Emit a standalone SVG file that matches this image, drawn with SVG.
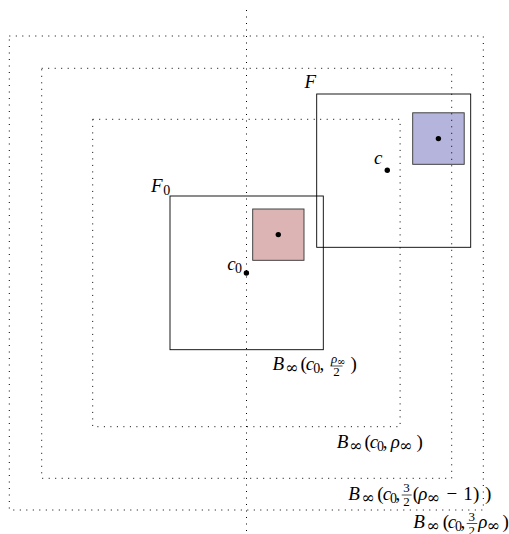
<svg xmlns="http://www.w3.org/2000/svg" width="509" height="534" viewBox="0 0 509 534">
<style>
.dot{fill:none;stroke:#000;stroke-width:1;stroke-dasharray:1 5.5}
.solid{fill:none;stroke:#000;stroke-width:0.9}
.sq{stroke:#333;stroke-width:0.9}
.pt{fill:#000}
text{font-family:"Liberation Serif","Times New Roman",serif;font-size:19px;fill:#000}
.i{font-style:italic}
.s{font-size:14px}
.inf{font-family:"DejaVu Serif","DejaVu Sans",serif;font-size:16px}
.ss{font-size:13px}
.sss{font-family:"DejaVu Serif","DejaVu Sans",serif;font-size:10px}
</style>
<rect width="509" height="534" fill="#fff"/>
<g id="square-red">
<rect class="sq" x="252.7" y="209" width="51.3" height="51.3" fill="#dcb4b4"/>
<circle class="pt" cx="278.3" cy="234.6" r="2.7"/>
</g>
<g id="square-blue">
<rect class="sq" x="412.7" y="112.8" width="51.5" height="51.5" fill="#b4b4dc"/>
<circle class="pt" cx="438.4" cy="138.6" r="2.7"/>
</g>
<g id="connectors">
<line class="dot" x1="246.5" y1="10" x2="246.5" y2="531"/>
</g>
<g id="ball-3-2-rho">
<rect class="dot" x="9.3" y="36" width="474" height="474"/>
<text x="413.3" y="528"><tspan class="i">B</tspan><tspan class="inf" x="426.3" y="530.5">∞</tspan><tspan x="442.7" y="528">(</tspan><tspan class="i" x="447.7">c</tspan><tspan class="s" x="455" y="530.5">0</tspan><tspan x="460.5" y="528">,</tspan></text>
<text class="ss" x="468.5" y="520.5">3</text>
<line x1="466.7" y1="523.5" x2="477.3" y2="523.5" stroke="#000" stroke-width="0.7"/>
<text class="ss" x="468.5" y="534.5">2</text>
<text x="478.3" y="528"><tspan class="i">ρ</tspan><tspan class="inf" x="486.5" y="530.5">∞</tspan><tspan x="502.5" y="528">)</tspan></text>
</g>
<g id="ball-3-2-rho-1">
<rect class="dot" x="41.7" y="68.3" width="410" height="410"/>
<text x="348.3" y="499.5"><tspan class="i">B</tspan><tspan class="inf" x="361.3" y="502.5">∞</tspan><tspan x="377.3" y="499.5">(</tspan><tspan class="i" x="382.7">c</tspan><tspan class="s" x="390" y="502.5">0</tspan><tspan x="395.5" y="499.5">,</tspan></text>
<text class="ss" x="403.3" y="492">3</text>
<line x1="401.7" y1="495" x2="411.7" y2="495" stroke="#000" stroke-width="0.7"/>
<text class="ss" x="403.3" y="506">2</text>
<text x="412.7" y="499.5">(<tspan class="i" x="418.3">ρ</tspan><tspan class="inf" x="426.5" y="502.5">∞</tspan><tspan x="446.5" y="499.5">−</tspan><tspan x="463.3">1</tspan><tspan x="473">)</tspan><tspan x="485">)</tspan></text>
</g>
<g id="ball-rho">
<rect class="dot" x="92.7" y="119.3" width="307.4" height="307.4"/>
<text x="336.7" y="448"><tspan class="i">B</tspan><tspan class="inf" x="349" y="451">∞</tspan><tspan x="364.5" y="448">(</tspan><tspan class="i" x="369.7">c</tspan><tspan class="s" x="377" y="451">0</tspan><tspan x="382.7" y="448">,</tspan><tspan class="i" x="390.7">ρ</tspan><tspan class="inf" x="399" y="451">∞</tspan><tspan x="416.5" y="448">)</tspan></text>
</g>
<g id="F">
<rect class="solid" x="316.7" y="94" width="154" height="153.3"/>
<text class="i" x="304.5" y="88">F</text>
<circle class="pt" cx="387.3" cy="170.3" r="2.7"/>
<text class="i" x="374" y="164">c</text>
</g>
<g id="F0">
<rect class="solid" x="170" y="196" width="153.3" height="153.7"/>
<text x="151" y="191.5"><tspan class="i">F</tspan><tspan class="s" x="163.3" y="195">0</tspan></text>
<circle class="pt" cx="246.4" cy="273" r="2.7"/>
<text x="227.3" y="269.5"><tspan class="i">c</tspan><tspan class="s" x="235" y="273">0</tspan></text>
<text x="272.5" y="370"><tspan class="i">B</tspan><tspan class="inf" x="285" y="373">∞</tspan><tspan x="300.5" y="370">(</tspan><tspan class="i" x="305.7">c</tspan><tspan class="s" x="313.2" y="373">0</tspan><tspan x="319.5" y="370">,</tspan></text>
<text x="331" y="362.5"><tspan class="i ss">ρ</tspan><tspan class="sss" x="337" y="364.5">∞</tspan></text>
<line x1="330.5" y1="366" x2="342.5" y2="366" stroke="#000" stroke-width="0.7"/>
<text class="ss" x="333.3" y="376">2</text>
<text x="350.5" y="370">)</text>
</g>
</svg>
